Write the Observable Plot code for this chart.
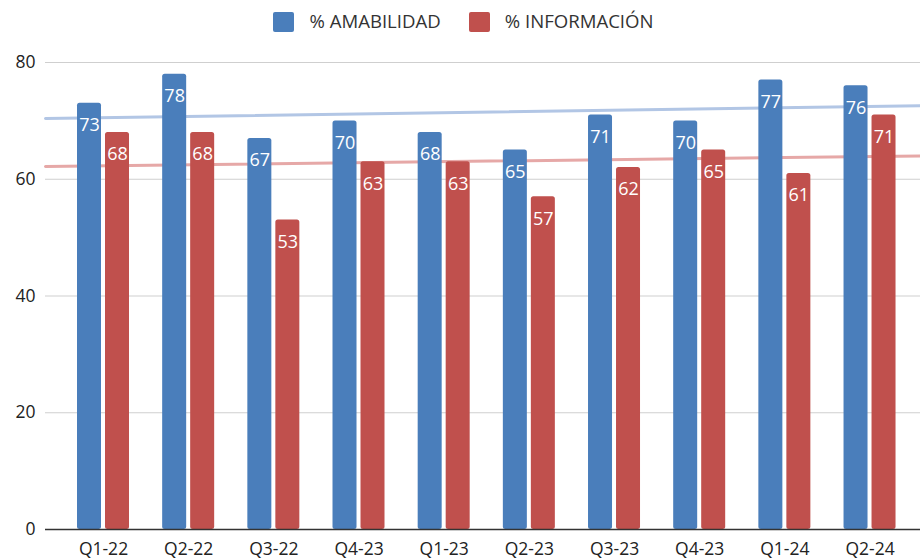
<!DOCTYPE html>
<html><head><meta charset="utf-8">
<script src="https://cdn.jsdelivr.net/npm/d3@7"></script>
<script src="https://cdn.jsdelivr.net/npm/@observablehq/plot@0.6"></script>
<style>
body{margin:0;background:#fff;font-family:"Open Sans",sans-serif;}
#legend{height:40px;display:flex;justify-content:center;align-items:center;padding-left:7px;box-sizing:border-box;}
.item{display:flex;align-items:center;margin:0 14px;font-size:18.6px;color:#333;}
.sw{width:21px;height:20px;border-radius:2px;margin-right:15px;margin-top:3px;}
</style></head><body>
<div id="legend"></div><div id="chart"></div>
<script>
const quarters = ["Q1-22","Q2-22","Q3-22","Q4-23","Q1-23","Q2-23","Q3-23","Q4-23","Q1-24","Q2-24"];
const amabilidad = [73,78,67,70,68,65,71,70,77,76];
const informacion = [68,68,53,63,63,57,62,65,61,71];
const seriesNames = ["% AMABILIDAD","% INFORMACIÓN"];
const yTicks = [0,20,40,60,80];

const barColors = ["#4a7ebb","#c0504d"];
const trendColors = ["#b2c6e5","#e6a8a7"];

// legend
const lg = document.getElementById("legend");
seriesNames.forEach((n,k)=>{
  const it = document.createElement("div"); it.className="item";
  const sw = document.createElement("div"); sw.className="sw"; sw.style.background=barColors[k];
  const tx = document.createElement("span"); tx.textContent=n;
  it.append(sw,tx); lg.append(it);
});

const series = [amabilidad, informacion];
const rows = quarters.flatMap((q,i)=>series.map((s,k)=>({i, k, q, value:s[i]})));

// layout in index units
const step = 85.17, plotLeft = 45, firstCenter = 103, plotW = 875;
const lo = -(firstCenter-plotLeft)/step, hi = lo + plotW/step;
const inner = 2/step, outer = 26/step;
const x1 = d => d.k===0 ? d.i-outer : d.i+inner;
const x2 = d => d.k===0 ? d.i-inner : d.i+outer;
const xc = d => (x1(d)+x2(d))/2;

function linreg(ys){
  const n = ys.length, mx = d3.mean(d3.range(n)), my = d3.mean(ys);
  let sxy=0, sxx=0;
  ys.forEach((y,i)=>{sxy+=(i-mx)*(y-my); sxx+=(i-mx)*(i-mx);});
  const b = sxy/sxx, a = my - b*mx;
  return x => a + b*x;
}
const trends = series.flatMap((s,k)=>{const f=linreg(s); return [lo,hi].map(x=>({k,x,y:f(x)}));});

const chart = Plot.plot({
  width: 920, height: 520,
  marginLeft: plotLeft, marginRight: 0, marginTop: 22, marginBottom: 31,
  style: {fontFamily:"'Open Sans',sans-serif", fontSize:"17.5px", color:"#222", background:"#fff"},
  x: {domain:[lo,hi], ticks: d3.range(quarters.length), tickFormat: i=>quarters[i], tickSize:0, tickPadding:13, label:null},
  y: {domain:[0,80], ticks: yTicks, tickSize:0, tickPadding:10, label:null},
  marks: [
    Plot.ruleY(yTicks.filter(t=>t>0), {stroke:"#cfcfcf", strokeWidth:1.2}),
    Plot.line(trends, {x:"x", y:"y", z:"k", stroke: d=>trendColors[d.k], strokeWidth:3}),
    Plot.rectY(rows, {x1, x2, y1:0, y2:"value", fill: d=>barColors[d.k], rx:2.5}),
    Plot.ruleY([0], {stroke:"#333", strokeWidth:1.4}),
    Plot.text(rows, {x: xc, y:"value", text: d=>String(d.value), fill:"#fff", fontSize:18, dy:22})
  ]
});
document.getElementById("chart").append(chart);
</script>
</body></html>
